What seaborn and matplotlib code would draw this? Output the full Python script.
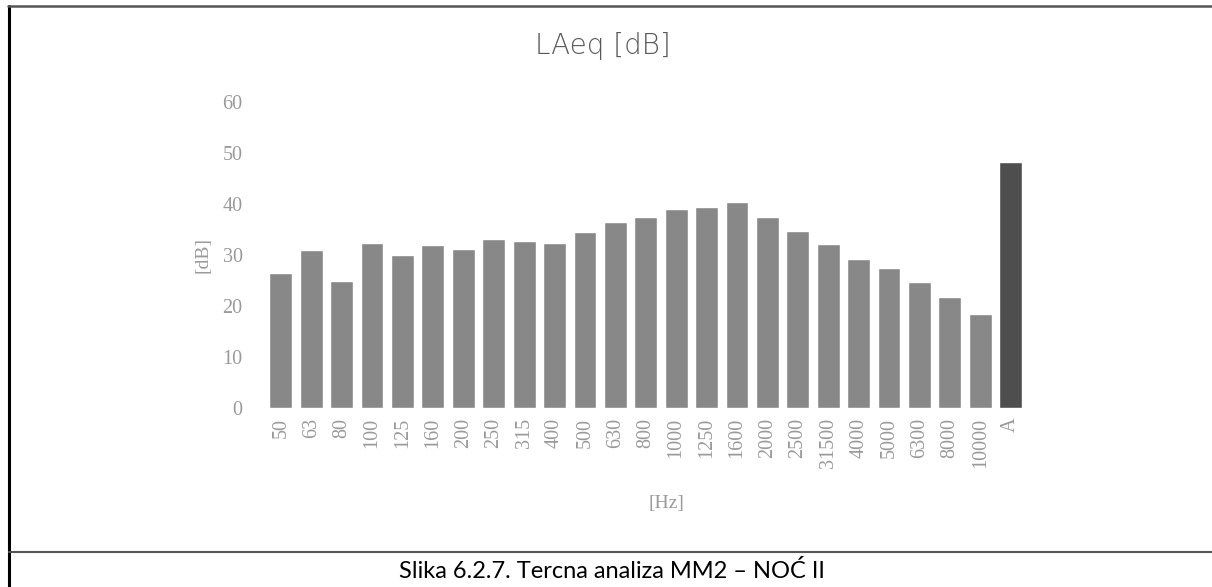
import seaborn as sns
import pandas as pd
import matplotlib.pyplot as plt
from matplotlib.lines import Line2D

# tercna analiza MM2 - noc II
freqs = ["50", "63", "80", "100", "125", "160", "200", "250", "315", "400", "500", "630",
         "800", "1000", "1250", "1600", "2000", "2500", "31500", "4000", "5000", "6300",
         "8000", "10000", "A"]
laeq = [26.4, 31.0, 24.9, 32.4, 30.0, 32.0, 31.1, 33.1, 32.7, 32.4, 34.6, 36.5,
        37.5, 39.0, 39.5, 40.3, 37.4, 34.8, 32.1, 29.2, 27.5, 24.8,
        21.7, 18.4, 48.3]
yticks = [0, 10, 20, 30, 40, 50, 60]

bar_color = "#888888"
a_color = "#4e4e4e"
txt_gray = "#9a9a9a"

df = pd.DataFrame({"freq": freqs, "laeq": laeq})
colors = {f: (a_color if f == "A" else bar_color) for f in freqs}

sns.set_style("white")
fig = plt.figure(figsize=(12.12, 5.87), dpi=100)
ax = fig.add_axes([255 / 1212, 1 - 408 / 587, 780 / 1212, 306 / 587])

sns.barplot(data=df, x="freq", y="laeq", hue="freq", palette=colors, order=freqs,
            legend=False, width=0.75, saturation=1, ax=ax)

ax.set_ylim(0, 60)
ax.set_xlim(-0.85, 24.8)
ax.set_yticks(yticks)
ax.set_yticklabels([str(t) for t in yticks], family="Liberation Serif", fontsize=14.5, color=txt_gray)
ax.set_xticks(range(len(freqs)))
ax.set_xticklabels(freqs, rotation=90, family="Liberation Serif", fontsize=14.5, color=txt_gray)
ax.tick_params(axis="y", length=0, pad=9)
ax.tick_params(axis="x", length=0, pad=7)
for s in ax.spines.values():
    s.set_visible(False)

ax.set_ylabel("[dB]", family="Liberation Serif", fontsize=14, color=txt_gray)
ax.yaxis.set_label_coords((212 - 255) / 780, 0.5)
ax.set_xlabel("[Hz]", family="Liberation Serif", fontsize=14, color=txt_gray)
ax.xaxis.set_label_coords((666 - 255) / 780, -(495 - 408) / 306)

fig.text(603 / 1212, 1 - 46 / 587, "LAeq [dB]", ha="center", va="center",
         fontsize=20, color="#595959", family="DejaVu Sans", fontweight="light")

# frame and caption
fig.add_artist(Line2D([9 / 1212, 9 / 1212], [0, 1 - 6 / 587], color="black", lw=2.2))
fig.add_artist(Line2D([8 / 1212, 1], [1 - 6 / 587, 1 - 6 / 587], color="#555555", lw=1.8))
fig.add_artist(Line2D([9 / 1212, 1], [1 - 552 / 587, 1 - 552 / 587], color="#555555", lw=1.5))
fig.text(612 / 1212, 1 - 571 / 587, "Slika 6.2.7. Tercna analiza MM2 \u2013 NO\u0106 II",
         ha="center", va="center", fontsize=17, color="black", family="Lato")

fig.savefig("out.png", dpi=100)
